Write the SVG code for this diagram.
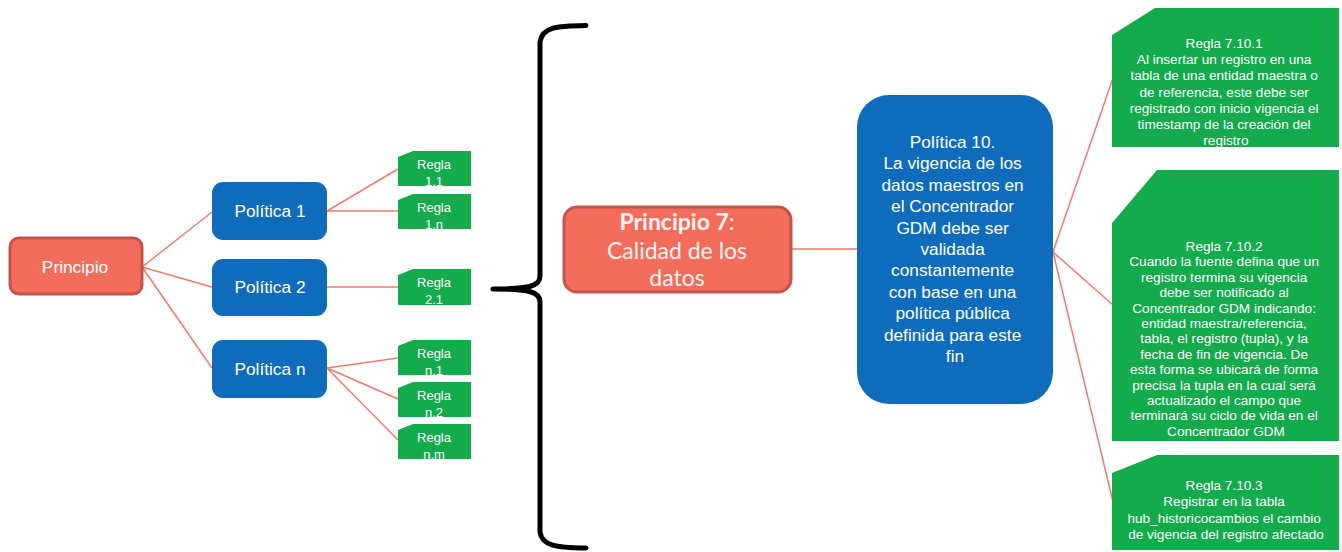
<svg xmlns="http://www.w3.org/2000/svg" width="1342" height="552" viewBox="0 0 1342 552">
  <style>
    .lnk { stroke: #F07A6C; stroke-width: 1.5; fill: none; }
    .root { fill: #F26D5C; stroke: #C4534A; stroke-width: 3; }
    .pol { fill: #0F6CBD; }
    .rule { fill: #13AB4C; }
    .t { font-family: "Liberation Sans", Arial, sans-serif; fill: #FFFFFF; text-anchor: middle; }
    .t17 { font-size: 17.3px; }
    .t13 { font-size: 13px; }
    .t135 { font-size: 13.6px; }
    .cal { font-family: Lato, "Open Sans", sans-serif; font-size: 23px; fill: #FFF4F0; text-anchor: middle; }
  </style>

  <!-- connectors -->
  <g id="connectors">
    <line class="lnk" x1="142" y1="267" x2="212" y2="212"/>
    <line class="lnk" x1="142" y1="267" x2="212" y2="287"/>
    <line class="lnk" x1="142" y1="267" x2="212" y2="368"/>
    <line class="lnk" x1="327" y1="211" x2="398" y2="169"/>
    <line class="lnk" x1="327" y1="211" x2="398" y2="211"/>
    <line class="lnk" x1="327" y1="287" x2="398" y2="287"/>
    <line class="lnk" x1="327" y1="368" x2="398" y2="358"/>
    <line class="lnk" x1="327" y1="368" x2="398" y2="399"/>
    <line class="lnk" x1="327" y1="368" x2="398" y2="440"/>
    <line class="lnk" x1="791" y1="249" x2="857" y2="249"/>
    <line class="lnk" x1="1053" y1="252" x2="1113" y2="78"/>
    <line class="lnk" x1="1053" y1="252" x2="1113" y2="305"/>
    <line class="lnk" x1="1053" y1="252" x2="1113" y2="502"/>
  </g>

  <!-- left: generic hierarchy -->
  <g id="principio">
    <rect class="root" x="10" y="238" width="132" height="56" rx="9"/>
    <text class="t t17" x="75" y="273">Principio</text>
  </g>

  <g id="politica-1">
    <rect class="pol" x="212" y="182" width="115" height="58" rx="11"/>
    <text class="t t17" x="270" y="217">Política 1</text>
  </g>
  <g id="politica-2">
    <rect class="pol" x="212" y="259" width="115" height="57" rx="11"/>
    <text class="t t17" x="270" y="293">Política 2</text>
  </g>
  <g id="politica-n">
    <rect class="pol" x="212" y="340" width="115" height="58" rx="11"/>
    <text class="t t17" x="270" y="375">Política n</text>
  </g>

  <g id="regla-1-1">
    <path class="rule" d="M398,157 L413,151 L471,151 L471,186 L398,186 Z"/>
    <text class="t t13" x="434" y="169">Regla</text>
    <text class="t t13" x="434" y="186">1.1</text>
  </g>
  <g id="regla-1-n">
    <path class="rule" d="M398,200 L413,194 L471,194 L471,229 L398,229 Z"/>
    <text class="t t13" x="434" y="212">Regla</text>
    <text class="t t13" x="434" y="229">1.n</text>
  </g>
  <g id="regla-2-1">
    <path class="rule" d="M398,275 L413,269 L471,269 L471,305 L398,305 Z"/>
    <text class="t t13" x="434" y="287">Regla</text>
    <text class="t t13" x="434" y="304">2.1</text>
  </g>
  <g id="regla-n-1">
    <path class="rule" d="M398,346 L413,340 L471,340 L471,375 L398,375 Z"/>
    <text class="t t13" x="434" y="358">Regla</text>
    <text class="t t13" x="434" y="375">n.1</text>
  </g>
  <g id="regla-n-2">
    <path class="rule" d="M398,388 L413,382 L471,382 L471,417 L398,417 Z"/>
    <text class="t t13" x="434" y="400">Regla</text>
    <text class="t t13" x="434" y="417">n.2</text>
  </g>
  <g id="regla-n-m">
    <path class="rule" d="M398,430 L413,424 L471,424 L471,459 L398,459 Z"/>
    <text class="t t13" x="434" y="442">Regla</text>
    <text class="t t13" x="434" y="459">n.m</text>
  </g>

  <!-- curly brace -->
  <g id="brace">
    <path d="M586,25.5 C556,26 542,27 540,42 L540,276 C540,286 530,289 493,289 C530,289 540,292 540,302 L540,532 C542,546 556,547.5 586,548"
          fill="none" stroke="#000000" stroke-width="5" stroke-linecap="round" stroke-linejoin="round"/>
  </g>

  <!-- right: concrete principle -->
  <g id="principio-7">
    <rect class="root" x="564" y="207" width="227" height="85" rx="13"/>
    <text class="cal" x="677" y="230"><tspan font-weight="bold">Principio 7</tspan>:</text>
    <text class="cal" x="677" y="259">Calidad de los</text>
    <text class="cal" x="677" y="286">datos</text>
  </g>

  <g id="politica-10">
    <rect class="pol" x="857" y="95" width="196" height="309" rx="32"/>
    <text class="t t17">
      <tspan x="955" y="148">Política 10.</tspan>
      <tspan x="955" y="169.4">La vigencia de los</tspan>
      <tspan x="955" y="190.8">datos maestros en</tspan>
      <tspan x="955" y="212.2">el Concentrador</tspan>
      <tspan x="955" y="233.6">GDM debe ser</tspan>
      <tspan x="955" y="255">validada</tspan>
      <tspan x="955" y="276.4">constantemente</tspan>
      <tspan x="955" y="297.8">con base en una</tspan>
      <tspan x="955" y="319.2">política pública</tspan>
      <tspan x="955" y="340.6">definida para este</tspan>
      <tspan x="955" y="362">fin</tspan>
    </text>
  </g>

  <g id="regla-7-10-1">
    <path class="rule" d="M1112,35 L1155,8 L1339,8 L1339,147 L1112,147 Z"/>
    <text class="t t135">
      <tspan x="1226" y="48">Regla 7.10.1</tspan>
      <tspan x="1226" y="64.2">Al insertar un registro en una</tspan>
      <tspan x="1226" y="80.4">tabla de una entidad maestra o</tspan>
      <tspan x="1226" y="96.6">de referencia, este debe ser</tspan>
      <tspan x="1226" y="112.8">registrado con inicio vigencia el</tspan>
      <tspan x="1226" y="129">timestamp de la creación del</tspan>
      <tspan x="1226" y="145.2">registro</tspan>
    </text>
  </g>

  <g id="regla-7-10-2">
    <path class="rule" d="M1112,223 L1157,170 L1339,170 L1339,441 L1112,441 Z"/>
    <text class="t t135">
      <tspan x="1226" y="251">Regla 7.10.2</tspan>
      <tspan x="1226" y="266.4">Cuando la fuente defina que un</tspan>
      <tspan x="1226" y="281.8">registro termina su vigencia</tspan>
      <tspan x="1226" y="297.2">debe ser notificado al</tspan>
      <tspan x="1226" y="312.6">Concentrador GDM indicando:</tspan>
      <tspan x="1226" y="328">entidad maestra/referencia,</tspan>
      <tspan x="1226" y="343.4">tabla, el registro (tupla), y la</tspan>
      <tspan x="1226" y="358.8">fecha de fin de vigencia. De</tspan>
      <tspan x="1226" y="374.2">esta forma se ubicará de forma</tspan>
      <tspan x="1226" y="389.6">precisa la tupla en la cual será</tspan>
      <tspan x="1226" y="405">actualizado el campo que</tspan>
      <tspan x="1226" y="420.4">terminará su ciclo de vida en el</tspan>
      <tspan x="1226" y="435.8">Concentrador GDM</tspan>
    </text>
  </g>

  <g id="regla-7-10-3">
    <path class="rule" d="M1112,473 L1157,455 L1339,455 L1339,550 L1112,550 Z"/>
    <text class="t t135">
      <tspan x="1226" y="490">Regla 7.10.3</tspan>
      <tspan x="1226" y="506.3">Registrar en la tabla</tspan>
      <tspan x="1226" y="522.6">hub_historicocambios el cambio</tspan>
      <tspan x="1226" y="538.9">de vigencia del registro afectado</tspan>
    </text>
  </g>
</svg>
